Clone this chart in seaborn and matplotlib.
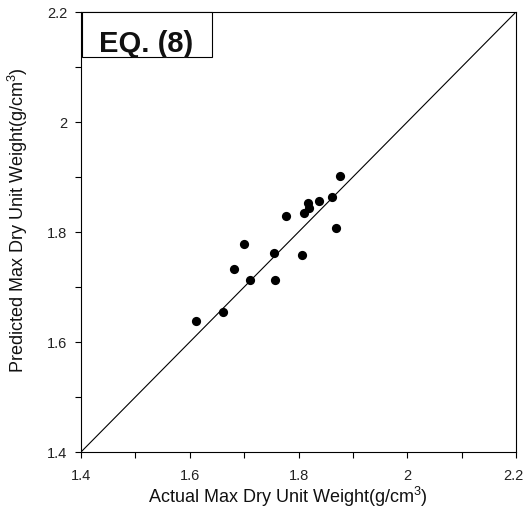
import matplotlib
matplotlib.use("Agg")
import matplotlib.pyplot as plt
import matplotlib.transforms as mtransforms
from matplotlib.patches import Rectangle
import seaborn as sns
import pandas as pd

# Data
actual = [1.612, 1.662, 1.682, 1.700, 1.711, 1.755, 1.757, 1.777, 1.807,
          1.811, 1.817, 1.819, 1.837, 1.861, 1.869, 1.876]
predicted = [1.639, 1.655, 1.732, 1.778, 1.713, 1.762, 1.713, 1.829, 1.758,
             1.835, 1.853, 1.844, 1.856, 1.864, 1.807, 1.902]
line_x = [1.4, 2.2]
line_y = [1.4, 2.2]
major_ticks = [1.4, 1.6, 1.8, 2.0, 2.2]
major_labels = ["1.4", "1.6", "1.8", "2", "2.2"]
minor_ticks = [1.5, 1.7, 1.9, 2.1]
box_text = "EQ. (8)"
x_label = "Actual Max Dry Unit Weight(g/cm$^3$)"
y_label = "Predicted Max Dry Unit Weight(g/cm$^3$)"

sns.set_style("white")
plt.rcParams['font.family'] = ['Liberation Sans', 'DejaVu Sans']
plt.rcParams['mathtext.fontset'] = 'custom'
plt.rcParams['mathtext.rm'] = 'Liberation Sans'
plt.rcParams['mathtext.it'] = 'Liberation Sans'

fig = plt.figure(figsize=(5.24, 5.12), dpi=100)
ax = fig.add_axes([81/524, 60/512, 435/524, 440/512])

df = pd.DataFrame({"actual": actual, "predicted": predicted})
sns.lineplot(x=line_x, y=line_y, ax=ax, color="black", linewidth=0.8)
sns.scatterplot(data=df, x="actual", y="predicted", ax=ax, color="black",
                s=44, edgecolor="black", linewidth=0, zorder=3)

ax.set_xlim(1.4, 2.2)
ax.set_ylim(1.4, 2.2)
ax.set_xticks(major_ticks)
ax.set_xticklabels(major_labels)
ax.set_yticks(major_ticks)
ax.set_yticklabels(major_labels)
ax.set_xticks(minor_ticks, minor=True)
ax.set_yticks(minor_ticks, minor=True)
ax.tick_params(which="both", direction="out", length=4, width=0.8,
               colors="black", labelsize=10.5, labelcolor="#222222",
               bottom=True, left=True)
ax.tick_params(axis="x", pad=8)
ax.tick_params(axis="y", pad=6)

# keep last x tick label inside the figure
last = ax.get_xticklabels()[-1]
last.set_transform(last.get_transform() +
                   mtransforms.ScaledTranslation(-3/100, 0, fig.dpi_scale_trans))

for sp in ax.spines.values():
    sp.set_visible(True)
    sp.set_color("black")
    sp.set_linewidth(0.8)

ax.set_xlabel(x_label, fontsize=13, color="#111111")
ax.set_ylabel(y_label, fontsize=13, color="#111111")
ax.xaxis.set_label_coords(0.476, -0.075)
ax.yaxis.set_label_coords(-0.117, 0.527)

# Annotation box anchored to top-left corner of the axes
ax.add_patch(Rectangle((0.002, 0.898), 0.299, 0.102, transform=ax.transAxes,
                       facecolor="white", edgecolor="black", linewidth=0.8,
                       zorder=5, clip_on=False))
ax.text(0.149, 0.909, box_text, transform=ax.transAxes, fontsize=21,
        fontweight="bold", va="baseline", ha="center", zorder=6,
        color="#111111")

fig.savefig("out.png", dpi=100)
